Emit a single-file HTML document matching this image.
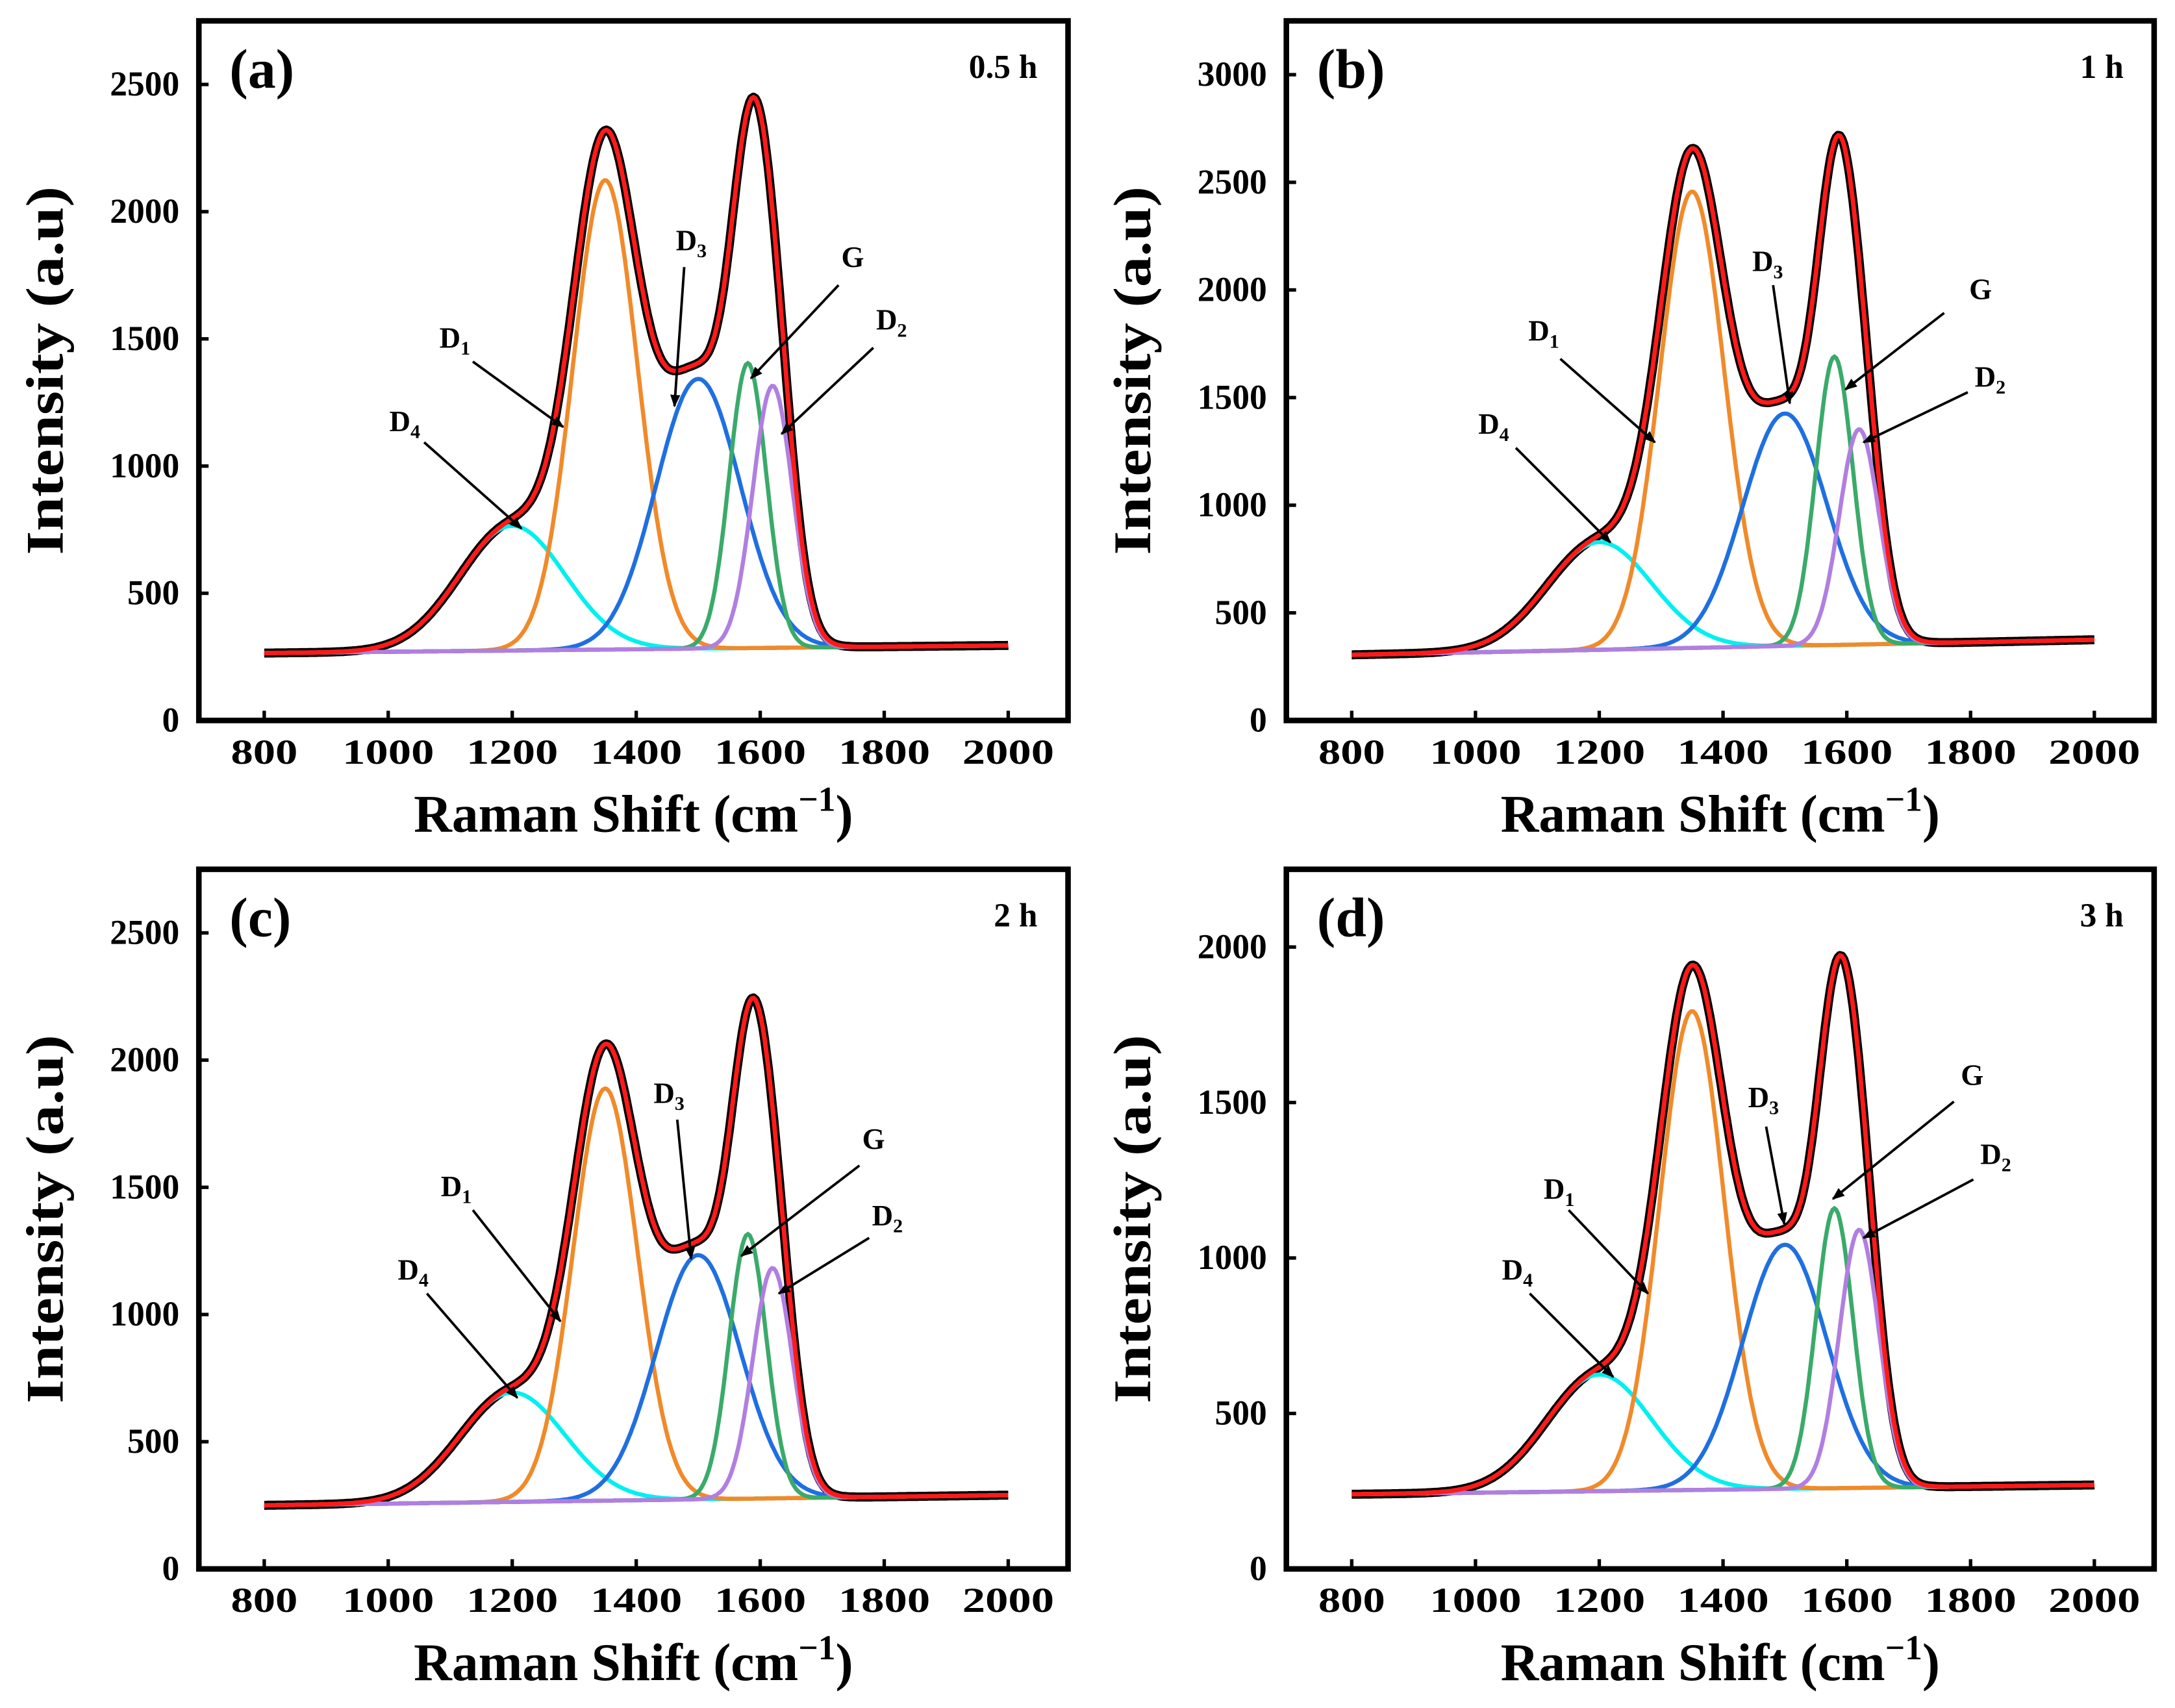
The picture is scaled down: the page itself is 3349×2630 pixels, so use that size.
<!DOCTYPE html>
<html><head><meta charset="utf-8"><style>
html,body{margin:0;padding:0;background:#fff;}
svg{display:block;}
text{font-family:"Liberation Serif",serif;font-weight:bold;fill:#000;}
</style></head><body>
<svg id="fig" width="3349" height="2630" viewBox="0 0 1564 1228" preserveAspectRatio="none" xmlns="http://www.w3.org/2000/svg">
<defs><marker id="ah" viewBox="0 0 10 10" refX="9" refY="5" markerWidth="5" markerHeight="5" orient="auto"><path d="M0,1 L10,5 L0,9 z" fill="#000"/></marker></defs>
</svg>
<script>
const NS="http://www.w3.org/2000/svg";
const svg=document.getElementById('fig');
// x range and peak centers (cm-1)
const xTicks=[800,1000,1200,1400,1600,1800,2000];
const peakNames=["D4","D1","D3","G","D2"];
const peakCenters=[1200,1350,1500,1580,1620];
const peakSigmas=[85,52,68,30,32];
const peakColors=["#00f0f0","#f08a2a","#1f6fe0","#3aaa6a","#b07fe0"];
// panel values
const panelLabels=["(a)","(b)","(c)","(d)"];
const panelTimes=["0.5 h","1 h","2 h","3 h"];
const yMaxs=[2750,3250,2750,2250];
const yTicksA=[0,500,1000,1500,2000,2500];
const yTicksB=[0,500,1000,1500,2000,2500,3000];
const yTicksC=[0,500,1000,1500,2000,2500];
const yTicksD=[0,500,1000,1500,2000];
const baseStart=[265,305,250,240];
const baseEnd=[295,375,290,270];
const heightsA=[490,1845,1060,1120,1030];
const heightsB=[500,2120,1080,1340,1000];
const heightsC=[430,1620,960,1040,905];
const heightsD=[375,1540,785,900,830];
const yTicksAll=[yTicksA,yTicksB,yTicksC,yTicksD];
const heightsAll=[heightsA,heightsB,heightsC,heightsD];
// panel frames in layout units
const frames=[[143,15,768,518],[925,15,1549,518],[143,625,768,1128],[925,625,1549,1128]];
// annotations: [name, labelX, labelY, x1,y1,x2,y2] relative to panel frame origin
const ann=[
 [["D1",173,235,197,245,262,292],["D4",137,295,162,303,232,365],["D3",343,165,349,177,342,277],["G",462,177,460,190,397,257],["D2",487,222,485,235,419,297]],
 [["D1",174,230,197,243,265,303],["D4",138,297,165,307,233,375],["D3",335,180,350,190,362,275],["G",491,200,473,210,402,265],["D2",495,263,490,267,415,303]],
 [["D1",174,235,197,245,260,325],["D4",143,295,164,305,229,380],["D3",327,168,344,180,354,280],["G",477,201,475,213,390,278],["D2",484,256,482,265,417,305]],
 [["D1",185,237,203,245,260,305],["D4",155,295,175,305,235,365],["D3",332,171,345,185,358,255],["G",485,155,480,167,393,237],["D2",499,212,494,223,415,265]]
];
function el(tag,attrs,parent){const e=document.createElementNS(NS,tag);for(const k in attrs)e.setAttribute(k,attrs[k]);(parent||svg).appendChild(e);return e;}
for(let p=0;p<4;p++){
  const [L,T,R,B]=frames[p];
  const g=el('g',{});
  
  
  const x0=L+47, x1=R-43;
  const sx=v=>x0+(v-800)/1200*(x1-x0);
  const sy=v=>B-v/yMaxs[p]*(B-T);
  const base=x=>baseStart[p]+(baseEnd[p]-baseStart[p])*(x-800)/1200;
  const comp=(i,x)=>heightsAll[p][i]*Math.exp(-Math.pow(x-peakCenters[i],2)/(2*peakSigmas[i]*peakSigmas[i]));
  const xs=[];for(let x=800;x<=2000;x+=3)xs.push(x);
  const path=f=>xs.map((x,k)=>(k?'L':'M')+sx(x).toFixed(1)+','+sy(f(x)).toFixed(1)).join('');
  const total=x=>{let s=base(x);for(let i=0;i<5;i++)s+=comp(i,x);return s;};
  const raw=el('path',{d:path(total),fill:'none',stroke:'#000','stroke-width':6.5,'stroke-linejoin':'round'},g);
  
  
  for(let i=0;i<5;i++){
    const c=el('path',{d:path(x=>base(x)+comp(i,x)),fill:'none',stroke:peakColors[i],'stroke-width':3},g);
    
    
  }
  const fit=el('path',{d:path(total),fill:'none',stroke:'#ff1a1a','stroke-width':3.2},g);
  
  
  const fr=el('rect',{x:L,y:T,width:R-L,height:B-T,fill:'none',stroke:'#000','stroke-width':4},g);
  
  
  xTicks.forEach(v=>{
    el('line',{x1:sx(v),x2:sx(v),y1:B,y2:B-7,stroke:'#000','stroke-width':2.5},g);
    const t=el('text',{x:sx(v),y:B+31,'text-anchor':'middle','font-size':25,textLength:(v<1000?48:66),lengthAdjust:'spacingAndGlyphs'},g);
    t.textContent=v;
    
    
  });
  yTicksAll[p].forEach(v=>{
    el('line',{x1:L,x2:L+7,y1:sy(v),y2:sy(v),stroke:'#000','stroke-width':2.5},g);
    const t=el('text',{x:L-14,y:sy(v)+8,'text-anchor':'end','font-size':25},g);
    t.textContent=v;
    
    
  });
  const yt=el('text',{x:0,y:0,'text-anchor':'middle','font-size':38,textLength:265,lengthAdjust:'spacingAndGlyphs',transform:`translate(${L-98},${(T+B)/2}) rotate(-90)`},g);
  yt.textContent='Intensity (a.u)';
  
  
  const xt=el('text',{x:(L+R)/2,y:B+80,'text-anchor':'middle','font-size':38},g);
  xt.innerHTML='Raman Shift (cm<tspan dy="-15" font-size="25">\u22121</tspan><tspan dy="15">)</tspan>';
  
  
  const pl=el('text',{x:L+22,y:T+48,'font-size':40},g);
  pl.textContent=panelLabels[p];
  
  
  const tl=el('text',{x:R-22,y:T+41,'text-anchor':'end','font-size':24},g);
  tl.textContent=panelTimes[p];
  
  
  ann[p].forEach(a=>{
    const [nm,lx,ly,ax1,ay1,ax2,ay2]=a;
    const t=el('text',{x:L+lx,y:T+ly,'font-size':21},g);
    if(nm==='G')t.textContent='G';
    else t.innerHTML='D<tspan dy="5" font-size="14">'+nm[1]+'</tspan>';
    
    
    const ln=el('line',{x1:L+ax1,y1:T+ay1,x2:L+ax2,y2:T+ay2,stroke:'#000','stroke-width':1.8,'marker-end':'url(#ah)'},g);
    
    
  });
}
</script>
</body></html>
